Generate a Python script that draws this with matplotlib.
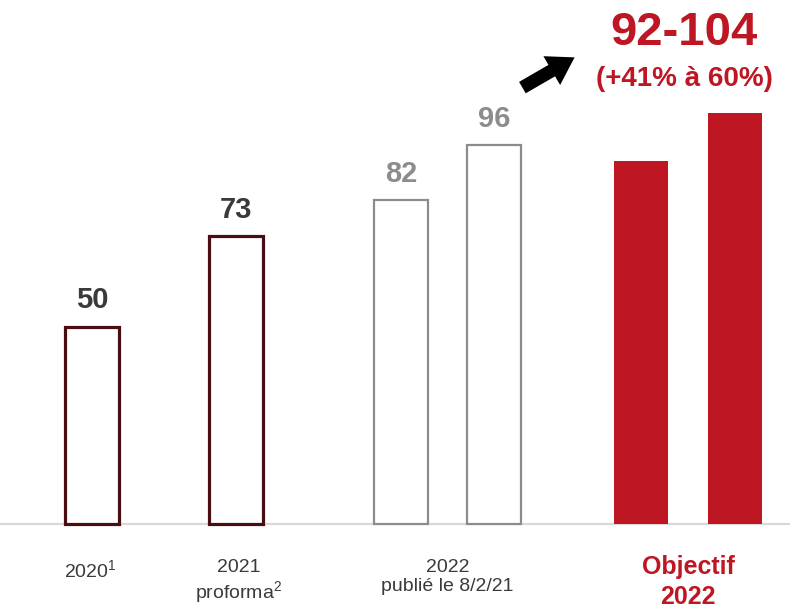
import matplotlib
matplotlib.use("Agg")
import matplotlib.pyplot as plt
from matplotlib.patches import FancyArrowPatch

plt.rcParams['font.family'] = ['Liberation Sans', 'DejaVu Sans']
plt.rcParams['mathtext.fontset'] = 'custom'
plt.rcParams['mathtext.rm'] = 'Liberation Sans'
plt.rcParams['mathtext.it'] = 'Liberation Sans'

# ---- data ----
values = [50, 73, 82, 96, 92, 104]
value_labels = ["50", "73", "82", "96", "", ""]
group_labels = [r"2020$^\mathregular{1}$", "2021\nproforma$^\\mathregular{2}$",
                "2022\npublié le 8/2/21"]
objective_label = "Objectif\n2022"
range_label = "92-104"
range_sub = "(+41% à 60%)"

# ---- layout / style ----
W, H = 803, 610
xpos = [92, 236, 401, 494, 641, 735]
bar_w = 54
dark = "#4a0e12"
grey = "#8c8c8c"
red = "#be1622"
face = ["white", "white", "white", "white", red, red]
edge = [dark, dark, grey, grey, red, red]
lw = [2.3, 2.3, 1.6, 1.6, 0, 0]
txtcol = ["#3a3a3a", "#3a3a3a", grey, grey, red, red]

fig = plt.figure(figsize=(W / 100, H / 100), dpi=100)
ax = fig.add_axes([0, 0, 1, 1])
base_px = 86
scale = 3.95
ax.set_xlim(0, W)
ax.set_ylim(-base_px / scale, (H - base_px) / scale)
ax.axis("off")

ax.plot([0, 790], [0, 0], color="#d9d9d9", lw=1.6, zorder=1, solid_capstyle="butt")

for x, v, f, e, l, lab, c in zip(xpos, values, face, edge, lw, value_labels, txtcol):
    ax.bar(x, v, width=bar_w, color=f, edgecolor=e, linewidth=l, zorder=2)
    if lab:
        ax.annotate(lab, (x, v), xytext=(0, 13), textcoords="offset points",
                    ha="center", va="baseline", fontsize=21, fontweight="bold", color=c)

# bottom labels
label_x = [xpos[0] - 2, xpos[1] + 3, (xpos[2] + xpos[3]) / 2]
for lx, lab in zip(label_x, group_labels):
    ax.text(lx / W, 1 - 559 / H, lab, transform=fig.transFigure, ha="center", va="top",
            fontsize=14, color="#3a3a3a", linespacing=1.15)

ax.text(((xpos[4] + xpos[5]) / 2) / W, 1 - 555 / H, objective_label, transform=fig.transFigure,
        ha="center", va="top", fontsize=18, fontweight="bold", color=red, linespacing=1.3)

# range labels
cx = 684 / W
fig.text(cx, 1 - 45 / H, range_label, ha="center", va="baseline", fontsize=34,
         fontweight="bold", color=red)
fig.text(cx, 1 - 86 / H, range_sub, ha="center", va="baseline", fontsize=20,
         fontweight="bold", color=red)

# arrow
arr = FancyArrowPatch((5.20, (H - 89) / 100), (5.77, (H - 56) / 100),
                      transform=fig.dpi_scale_trans,
                      arrowstyle="simple,head_length=19,head_width=24,tail_width=9.5",
                      mutation_scale=1, color="black", lw=0)
fig.patches.append(arr)

fig.savefig("out.png", dpi=100)
